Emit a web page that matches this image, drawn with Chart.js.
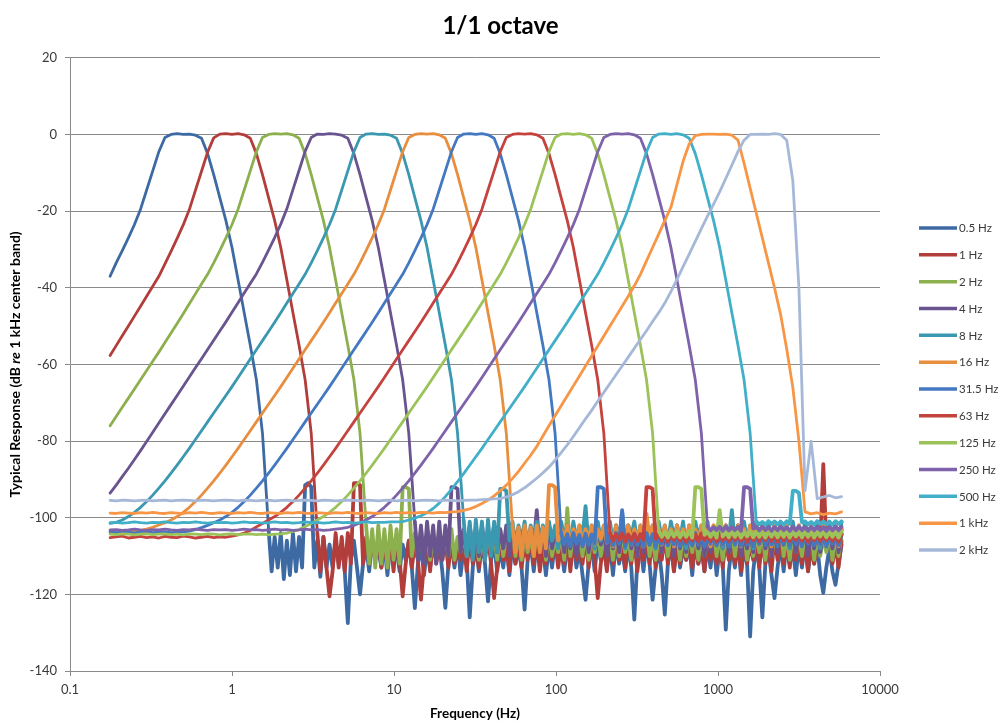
<!DOCTYPE html>
<html><head><meta charset="utf-8">
<script src="https://cdn.jsdelivr.net/npm/chart.js@4.4.1/dist/chart.umd.min.js"></script>
<style>html,body{margin:0;padding:0;background:#fff;}canvas{display:block;}</style>
</head><body>
<canvas id="c" width="1001" height="724"></canvas>
<script>
// ---- data ----
// main frequency grid (1/8 octave)
const freqs = [0.1768,0.1928,0.2102,0.2293,0.25,0.2726,0.2973,0.3242,0.3536,0.3856,0.4204,0.4585,
0.5,0.5453,0.5946,0.6484,0.7071,0.7711,0.8409,0.917,
1,1.0905,1.1892,1.2968,1.4142,1.5422,1.6818,1.834,
2,2.181,2.378,2.594,2.828,3.084,3.364,3.668,
4,4.362,4.757,5.187,5.657,6.169,6.727,7.336,
8,8.724,9.514,10.37,11.31,12.34,13.45,14.67,
16,17.45,19.03,20.75,22.63,24.68,26.91,29.34,
32,34.9,38.05,41.5,45.25,49.35,53.82,58.69,
64,69.79,76.11,83,90.51,98.7,107.6,117.4,
128,139.6,152.2,166,181,197.4,215.3,234.8,
256,279.2,304.4,332,362,394.8,430.5,469.5,
512,558.4,608.9,664,724.1,789.6,861.1,939.1,
1024,1117,1218,1328,1448,1579,1722,1878,
2048,2233,2435,2656,2896,3158,3444,3756,
4096,4467,4871,5312,5793];

// in-between frequencies (used for the dense noise floor readings)
const midFreqs = [0.1846,0.2013,0.2195,0.2394,0.2611,0.2847,0.3105,0.3386,0.3692,0.4026,0.4391,0.4788,
0.5221,0.5694,0.6209,0.6771,0.7384,0.8052,0.8781,0.9576,
1.0443,1.1388,1.2419,1.3543,1.4768,1.6105,1.7563,1.9152,
2.0885,2.2776,2.4837,2.7086,2.9537,3.221,3.5125,3.8304,
4.177,4.555,4.967,5.417,5.907,6.442,7.025,7.661,
8.354,9.11,9.935,10.83,11.81,12.88,14.05,15.32,
16.71,18.22,19.87,21.67,23.63,25.77,28.1,30.64,
33.42,36.44,39.74,43.34,47.26,51.54,56.2,61.29,
66.83,72.88,79.48,86.67,94.52,103.1,112.4,122.6,
133.7,145.8,159,173.3,189,206.1,224.8,245.2,
267.3,291.5,317.9,346.7,378.1,412.3,449.6,490.3,
534.7,583.1,635.8,693.4,756.2,824.6,899.2,980.6,
1069,1166,1272,1387,1512,1649,1798,1961,
2139,2332,2543,2773,3025,3298,3597,3922,
4277,4664,5086,5546];

const seriesLabels = ['0.5 Hz','1 Hz','2 Hz','4 Hz','8 Hz','16 Hz','31.5 Hz','63 Hz','125 Hz','250 Hz','500 Hz','1 kHz','2 kHz'];

const band0_5Hz = [-37,-33.5,-30.3,-27,-23.5,-19.5,-14.5,-9.5,-4.5,-0.8,
0,0.2,0,0.1,-0.2,-1,-5,-10.5,-16.5,-22.5,
-29.5,-38,-46.5,-55,-64,-78,-103,-105,-104,-106,
-104,-105,-91.5,-92,-106,-105,-107,-106,-107,-127.5,
-106,-120,-107,-106,-108,-107,-106,-108,-107,-106,
-123.6,-107,-108,-106,-107,-123.5,-107,-106,-108,-126,
-107,-106,-121.8,-107,-108,-106,-107,-108,-124,-107,
-106,-108,-107,-106,-108,-107,-106,-108,-121.4,-107,
-106,-108,-107,-106,-108,-107,-126.6,-107,-106,-121.4,
-108,-125.3,-107,-106,-108,-107,-106,-108,-107,-106,
-108,-129.2,-107,-106,-108,-131,-107,-126,-108,-121,
-107,-106,-108,-107,-106,-108,-107,-119.6,-108,-117.5,
-107];
const mid0_5Hz = [-114,-113,-116,-115,-114,-113,-91,-113,-115.4,-113,
-113,-112,-114,-111,-113,-112,-114,-111,-113,-115,
-112,-114,-111,-113,-112,-115,-113,-111,-114,-112,
-113,-115,-111,-113,-114,-112,-111,-114,-113,-115,
-112,-113,-111,-114,-112,-115,-113,-111,-114,-112,
-113,-115,-112,-114,-111,-113,-115,-112,-114,-113,
-111,-114,-112,-113,-115,-112,-114,-113,-111,-115,
-112,-114,-113,-115,-112,-114,-113,-115,-112,-114,
-113,-112,-115,-113,-114,-112,-115,-113,-114,-112,
-115,-113,-114,-112];

const band1Hz = [-57.7,-55.1,-52.5,-50,-47.4,-44.8,-42.2,-39.6,-37,-33.8,
-30.5,-27.1,-23.6,-19.6,-14.6,-9.6,-4.6,-0.9,0.1,0.2,
0,0.2,-0.1,-1,-5,-10.5,-16.5,-22.5,-29.5,-38,
-46.5,-55,-64,-78,-104,-105,-120.5,-104,-105,-104,
-91,-91.5,-105,-106,-105,-107,-106,-105,-120.5,-106,
-107,-121.4,-106,-105,-107,-106,-105,-107,-106,-105,
-107,-106,-105,-121,-106,-107,-105,-106,-107,-105,
-106,-107,-105,-106,-107,-105,-106,-107,-105,-106,
-121,-107,-105,-106,-107,-105,-106,-107,-105,-106,
-107,-105,-106,-107,-105,-106,-107,-105,-106,-107,
-105,-106,-107,-105,-106,-107,-105,-106,-107,-105,
-106,-107,-105,-106,-107,-105,-106,-86,-106,-107,
-106];
const mid1Hz = [-114,-113,-114,-113,-114,-112,-91,-112,-112,-111,
-113,-112,-114,-111,-112,-113,-111,-112,-114,-112,
-111,-113,-112,-111,-114,-112,-113,-111,-112,-113,
-111,-114,-112,-113,-111,-112,-114,-112,-111,-113,
-112,-114,-111,-112,-113,-111,-112,-114,-112,-111,
-113,-112,-114,-111,-112,-113,-111,-112,-114,-112,
-111,-113,-112,-114,-111,-112,-113,-111,-112,-114,
-112,-111,-113,-112,-114,-111,-112,-113,-111,-112,
-114,-112,-107,-107,-112,-113];

const band2Hz = [-76,-73.6,-71.2,-68.8,-66.4,-64,-61.6,-59.2,-56.8,-54.3,
-51.8,-49.3,-46.8,-44.2,-41.6,-39,-36.5,-33.5,-30.3,-27,
-23.5,-19.5,-14.5,-9.5,-4.5,-0.8,0,0.2,0.1,0.2,
-0.1,-1,-5,-10.5,-16.5,-22.5,-29.5,-38,-46.5,-55,
-64,-78,-102,-103,-102,-103,-102,-103,-92,-92.5,
-104,-103,-104,-105,-103,-104,-103,-105,-104,-103,
-104,-105,-103,-104,-103,-105,-104,-103,-104,-105,
-103,-104,-103,-105,-104,-97.5,-104,-105,-103,-104,
-103,-105,-104,-103,-104,-105,-103,-104,-103,-105,
-104,-103,-104,-105,-103,-104,-103,-105,-104,-103,
-104,-105,-103,-104,-103,-105,-104,-103,-104,-105,
-103,-104,-103,-105,-104,-103,-104,-105,-103,-104,
-104];
const mid2Hz = [-112,-113,-112,-113,-111,-112,-92,-110,-110,-109,
-111,-110,-108,-110,-111,-109,-110,-108,-111,-110,
-109,-111,-110,-108,-110,-111,-109,-110,-108,-111,
-110,-109,-111,-110,-108,-110,-111,-109,-110,-108,
-111,-110,-109,-111,-110,-108,-110,-111,-109,-110,
-108,-111,-110,-109,-111,-110,-108,-110,-111,-109,
-110,-108,-111,-110,-109,-111,-110,-108,-110,-111,
-109,-110,-108,-111,-110,-109,-111,-110];

const band4Hz = [-93.6,-91.5,-89.3,-87.1,-84.8,-82.5,-80.1,-77.7,-75.3,-72.9,
-70.5,-68.1,-65.7,-63.3,-60.9,-58.5,-56.1,-53.7,-51.3,-48.9,
-46.4,-43.9,-41.4,-38.9,-36.4,-33.4,-30.2,-26.9,-23.4,-19.4,
-14.4,-9.4,-4.4,-0.8,0.1,0,0.2,0.1,-0.2,-1,
-5,-10.5,-16.5,-22.5,-29.5,-38,-46.5,-55,-64,-78,
-101,-102,-101,-102,-101,-102,-92,-92.5,-103,-102,
-103,-102,-104,-102,-103,-102,-103,-104,-102,-103,
-98,-103,-102,-104,-103,-102,-103,-104,-102,-103,
-102,-103,-104,-102,-103,-102,-104,-103,-102,-103,
-102,-104,-103,-102,-103,-104,-102,-103,-102,-103,
-104,-102,-103,-102,-104,-103,-102,-103,-104,-102,
-103,-102,-103,-104,-102,-103,-102,-104,-103,-102,
-103];
const mid4Hz = [-111,-112,-110,-112,-111,-110,-92,-109,-109,-108,
-110,-108,-107,-109,-108,-110,-107,-109,-108,-107,
-109,-110,-108,-107,-109,-108,-110,-107,-109,-108,
-107,-110,-108,-109,-107,-108,-110,-109,-107,-108,
-109,-107,-110,-108,-109,-107,-108,-110,-109,-107,
-108,-109,-107,-110,-108,-109,-107,-108,-110,-109,
-107,-108,-109,-107,-110,-108,-109,-107,-108,-109];

const band8Hz = [-101.5,-101.2,-100.6,-99.7,-98.6,-97.3,-95.8,-94.1,-92.3,-90.4,
-88.4,-86.3,-84.1,-81.9,-79.6,-77.3,-75,-72.7,-70.4,-68.1,
-65.8,-63.4,-61,-58.6,-56.2,-53.8,-51.4,-49,-46.5,-44,
-41.5,-39,-36.5,-33.5,-30.3,-27,-23.5,-19.5,-14.5,-9.5,
-4.5,-0.8,0.1,0.2,0,0.1,-0.2,-1,-5,-10.5,
-16.5,-22.5,-29.5,-38,-46.5,-55,-64,-78,-100.5,-101,
-100.5,-101,-100.5,-101,-92.5,-93,-101,-102,-101,-102,
-101,-102,-101,-102,-101,-102,-101,-102,-97,-102,
-101,-102,-101,-102,-98.5,-102,-101,-102,-101,-102,
-101,-102,-101,-102,-101,-102,-101,-102,-101,-102,
-101,-102,-98,-102,-101,-102,-101,-102,-101,-102,
-101,-102,-101,-102,-101,-102,-101,-102,-101,-102,
-101];
const mid8Hz = [-110,-111,-109,-111,-110,-109,-92.5,-106,-107,-106,
-108,-106,-105,-107,-106,-108,-105,-107,-106,-105,
-107,-108,-106,-105,-107,-106,-108,-105,-107,-106,
-105,-108,-106,-107,-105,-106,-108,-107,-105,-106,
-107,-105,-108,-106,-107,-105,-106,-108,-107,-105,
-106,-107,-105,-108,-106,-107,-105,-106,-108,-107,
-105,-106];

const band16Hz = [-103.6,-103.4,-103.6,-103.5,-103.4,-103.3,-103,-102.5,-101.9,-101.3,
-100.6,-99.7,-98.6,-97.3,-95.8,-94.1,-92.3,-90.4,-88.4,-86.3,
-84.1,-81.9,-79.6,-77.3,-75,-72.7,-70.4,-68.1,-65.8,-63.4,
-61,-58.6,-56.2,-53.8,-51.4,-49,-46.5,-44,-41.5,-39,
-36.5,-33.5,-30.3,-27,-23.5,-19.5,-14.5,-9.5,-4.5,-0.8,
0,0.2,0.1,0.2,-0.1,-1,-5,-10.5,-16.5,-22.5,
-29.5,-38,-46.5,-55,-64,-78,-102,-102.5,-102,-102.5,
-102,-102.5,-91.5,-92,-103,-102,-103,-102,-103,-102,
-103,-102,-103,-102,-103,-102,-103,-102,-99,-102,
-103,-102,-103,-102,-103,-102,-103,-102,-103,-102,
-103,-102,-103,-102,-103,-102,-103,-102,-103,-102,
-103,-102,-103,-102,-103,-102,-103,-102,-103,-102,
-103];
const mid16Hz = [-109,-110,-108,-110,-109,-108,-91.5,-106,-106,-107,
-105.5,-107.5,-106,-107,-105.5,-106.5,-107.5,-106,-105.5,-107,
-106,-107.5,-105.5,-106.5,-107,-106,-107.5,-105.5,-106,-107,
-106.5,-105.5,-107.5,-106,-107,-105.5,-106.5,-107.5,-106,-105.5,
-107,-106,-107.5,-105.5,-106.5,-107,-106,-107.5,-105.5,-106,
-107,-106.5,-105.5,-107.5];

const band31_5Hz = [-103.8,-103.9,-103.7,-103.8,-104,-103.8,-103.7,-103.9,-103.8,-103.7,
-103.9,-103.8,-103.7,-103.5,-103.1,-102.6,-102,-101.3,-100.6,-99.7,
-98.6,-97.3,-95.8,-94.1,-92.3,-90.4,-88.4,-86.3,-84.1,-81.9,
-79.6,-77.3,-75,-72.7,-70.4,-68.1,-65.8,-63.4,-61,-58.6,
-56.2,-53.8,-51.4,-49,-46.5,-44,-41.5,-39,-36.5,-33.5,
-30.3,-27,-23.5,-19.5,-14.5,-9.5,-4.5,-0.8,0.1,0.2,
0,0.2,-0.1,-1,-5,-10.5,-16.5,-22.5,-29.5,-38,
-46.5,-55,-64,-78,-104,-104.3,-104,-104.5,-104.2,-104.4,
-92,-92.5,-104.3,-104,-98,-104.5,-104.2,-104.4,-104,-104.3,
-104.5,-104.2,-104,-104.4,-104.3,-104.5,-104,-104.2,-104.4,-104.3,
-104,-104.5,-104.2,-104.3,-104.4,-104,-104.5,-104.2,-104.3,-104.4,
-104,-104.5,-104.2,-104.3,-104.4,-104,-104.5,-104.2,-104.3,-104.4,
-104.3];
const mid31_5Hz = [-107,-107.5,-106.8,-107.5,-107,-106.8,-92,-106.5,-107.2,-106.8,
-107.5,-107,-106.8,-107.4,-107,-107.5,-106.8,-107.2,-107,-107.5,
-106.8,-107.3,-107,-107.5,-106.8,-107.2,-107,-107.5,-106.8,-107.3,
-107,-107.5,-106.8,-107.2,-107,-107.5,-106.8,-107.3,-107,-107.5,
-106.8,-107.2,-107,-107.5,-106.8,-107.2];

const band63Hz = [-105.2,-105,-104.8,-105.3,-105.1,-104.9,-105.2,-105,-105.3,-104.9,
-105.1,-105.2,-104.8,-105,-105.3,-105.1,-104.9,-105.2,-105,-105.1,
-104.8,-104.5,-104,-103.3,-102.4,-101.5,-100.6,-99.7,-98.6,-97.3,
-95.8,-94.1,-92.3,-90.4,-88.4,-86.3,-84.1,-81.9,-79.6,-77.3,
-75,-72.7,-70.4,-68.1,-65.8,-63.4,-61,-58.6,-56.2,-53.8,
-51.4,-49,-46.5,-44,-41.5,-39,-36.5,-33.5,-30.3,-27,
-23.5,-19.5,-14.5,-9.5,-4.5,-0.8,0,0.2,0.1,0.2,
-0.1,-1,-5,-10.5,-16.5,-22.5,-29.5,-38,-46.5,-55,
-64,-78,-104,-104.3,-104.1,-104.4,-104.2,-104.3,-92,-92.5,
-104.2,-104.4,-104.1,-104.3,-104.5,-104.2,-104.4,-104.1,-104.3,-104.2,
-104.4,-104.1,-104.3,-104.5,-104.2,-104.4,-104.1,-104.3,-104.2,-104.4,
-104.1,-104.3,-104.5,-104.2,-104.4,-104.1,-104.3,-104.2,-104.4,-104.1,
-104.3];
const mid63Hz = [-106,-105.8,-106.2,-105.9,-106,-105.8,-92,-105.5,-106,-106.2,
-105.8,-106,-106.3,-105.9,-106.1,-105.8,-106,-106.2,-105.9,-106.1,
-105.8,-106,-106.3,-105.9,-106.1,-105.8,-106,-106.2,-105.9,-106.1,
-105.8,-106,-106.3,-105.9,-106.1,-105.8,-106,-106.2];

const band125Hz = [-104.3,-104.4,-104.2,-104.3,-104.5,-104.3,-104.2,-104.4,-104.3,-104.2,
-104.4,-104.3,-104.5,-104.2,-104.3,-104.4,-104.2,-104.3,-104.5,-104.3,
-104.2,-104.4,-104.3,-104.2,-104.4,-104.3,-104.5,-104.3,-104.2,-104,
-103.6,-103.1,-102.3,-101.5,-100.6,-99.7,-98.6,-97.3,-95.8,-94.1,
-92.3,-90.4,-88.4,-86.3,-84.1,-81.9,-79.6,-77.3,-75,-72.7,
-70.4,-68.1,-65.8,-63.4,-61,-58.6,-56.2,-53.8,-51.4,-49,
-46.5,-44,-41.5,-39,-36.5,-33.5,-30.3,-27,-23.5,-19.5,
-14.5,-9.5,-4.5,-0.8,0.1,0.2,0,0.2,-0.1,-1,
-5,-10.5,-16.5,-22.5,-29.5,-38,-46.5,-55,-64,-78,
-103.5,-103.7,-103.5,-103.6,-103.7,-103.5,-92,-92.5,-103.6,-103.5,
-98,-103.7,-103.5,-103.6,-103.7,-103.5,-103.6,-103.7,-103.5,-103.6,
-103.7,-103.5,-103.6,-103.7,-103.5,-103.6,-103.7,-103.5,-103.6,-103.7,
-103.6];
const mid125Hz = [-105,-105.2,-104.9,-105.1,-105,-105.2,-92,-104.5,-105,-105.2,
-104.9,-105.1,-105,-105.2,-104.9,-105.1,-105,-105.2,-104.9,-105.1,
-105,-105.2,-104.9,-105.1,-105,-105.2,-104.9,-105.1,-105,-105.2];

const band250Hz = [-103.2,-103.1,-103.3,-103.2,-103,-103.2,-103.3,-103.1,-103.2,-103,
-103.2,-103.3,-103.1,-103.2,-103,-103.2,-103.3,-103.1,-103.2,-103.1,
-103.3,-103.2,-103,-103.2,-103.1,-103.3,-103.2,-103,-103.2,-103.1,
-103.3,-103.2,-103,-103.2,-103.1,-103.3,-103.2,-103,-102.8,-102.5,
-102,-101.3,-100.6,-99.7,-98.6,-97.3,-95.8,-94.1,-92.3,-90.4,
-88.4,-86.3,-84.1,-81.9,-79.6,-77.3,-75,-72.7,-70.4,-68.1,
-65.8,-63.4,-61,-58.6,-56.2,-53.8,-51.4,-49,-46.5,-44,
-41.5,-39,-36.5,-33.5,-30.3,-27,-23.5,-19.5,-14.5,-9.5,
-4.5,-0.8,0,0.2,0.1,0.2,-0.1,-1,-5,-10.5,
-16.5,-22.5,-29.5,-38,-46.5,-55,-64,-78,-102.3,-102.5,
-102.4,-102.3,-102.5,-102.4,-92,-92.5,-102.4,-102.3,-102.5,-102.4,
-102.3,-102.5,-102.4,-102.3,-102.5,-102.4,-102.3,-102.5,-102.4,-102.3,
-102.4];
const mid250Hz = [-103.3,-103.2,-103.4,-103.3,-103.2,-103.4,-92,-102.8,-103.3,-103.2,
-103.4,-103.3,-103.2,-103.4,-103.3,-103.2,-103.4,-103.3,-103.2,-103.4,
-103.3,-103.2];

const band500Hz = [-101.3,-101.2,-101.4,-101.3,-101.1,-101.3,-101.4,-101.2,-101.3,-101.1,
-101.3,-101.4,-101.2,-101.3,-101.1,-101.3,-101.4,-101.2,-101.3,-101.2,
-101.4,-101.3,-101.1,-101.3,-101.2,-101.4,-101.3,-101.1,-101.3,-101.2,
-101.4,-101.3,-101.1,-101.3,-101.2,-101.4,-101.3,-101.1,-101.3,-101.2,
-101.4,-101.3,-101.1,-101.3,-101.2,-101.2,-101.1,-101.1,-101,-100.6,
-100.1,-99.5,-98.7,-97.6,-96.2,-94.5,-92.6,-90.6,-88.5,-86.3,
-84.1,-81.9,-79.6,-77.3,-75,-72.7,-70.4,-68.1,-65.8,-63.4,
-61,-58.6,-56.2,-53.8,-51.4,-49,-46.5,-44,-41.5,-39,
-36.5,-33.5,-30.3,-27,-23.5,-19.5,-14.5,-9.5,-4.5,-0.8,
0.1,0.2,0,0.2,-0.1,-1,-5,-10.5,-16.5,-22.5,
-29.5,-38,-46.5,-55,-64,-78,-101,-101.1,-100.9,-101,
-101.1,-100.9,-93,-93.5,-101,-101.1,-100.9,-101,-101.1,-100.9,
-101];
const mid500Hz = [-101.7,-101.8,-101.6,-101.7,-101.8,-101.6,-93,-101.2,-101.7,-101.8,
-101.6,-101.7,-101.8,-101.6];

const band1kHz = [-98.8,-98.9,-98.7,-98.8,-98.9,-98.7,-98.8,-98.6,-98.8,-98.9,
-98.7,-98.8,-98.9,-98.7,-98.8,-98.6,-98.8,-98.9,-98.7,-98.8,
-98.9,-98.7,-98.8,-98.6,-98.8,-98.9,-98.7,-98.8,-98.9,-98.7,
-98.8,-98.6,-98.8,-98.9,-98.7,-98.8,-98.9,-98.7,-98.8,-98.6,
-98.8,-98.9,-98.7,-98.8,-98.9,-98.7,-98.8,-98.6,-98.8,-98.7,
-98.8,-98.6,-98.7,-98.8,-98.6,-98.7,-98.5,-98.4,-98.1,-97.7,
-97.1,-96.3,-95.4,-94.3,-93,-91.5,-89.8,-87.9,-85.8,-83.7,
-81.4,-78.7,-76,-73.4,-70.8,-68.2,-65.6,-63,-60.4,-57.8,
-55.2,-52.6,-50,-47.4,-44.8,-42.2,-39.5,-36.5,-33,-29.5,
-26,-22.5,-19,-13,-7,-2.5,-0.3,0,0.1,0.1,
0,0.1,-0.2,-1.5,-7.5,-14,-20.5,-27,-33.5,-40,
-47,-56,-66,-80,-98.5,-99,-98.7,-99.2,-98.8,-99,
-98.5];

const band2kHz = [-95.5,-95.6,-95.4,-95.5,-95.6,-95.5,-95.4,-95.6,-95.5,-95.4,
-95.6,-95.5,-95.4,-95.5,-95.6,-95.4,-95.5,-95.6,-95.5,-95.4,
-95.5,-95.6,-95.4,-95.5,-95.6,-95.5,-95.4,-95.6,-95.5,-95.4,
-95.6,-95.5,-95.4,-95.5,-95.6,-95.4,-95.5,-95.6,-95.5,-95.4,
-95.5,-95.6,-95.4,-95.5,-95.6,-95.5,-95.4,-95.6,-95.5,-95.4,
-95.6,-95.5,-95.4,-95.5,-95.6,-95.4,-95.5,-95.6,-95.5,-95.4,
-95.4,-95.3,-95.2,-95.1,-95,-94.6,-94,-93.2,-92.2,-91,
-89.7,-88.3,-86.8,-85,-83,-81,-78.8,-76.5,-74.2,-72,
-69.6,-67.3,-65,-62.7,-60.4,-58.1,-55.8,-53.5,-51.2,-48.8,
-46.5,-44,-41,-37.8,-34.5,-31.2,-27.9,-24.6,-21.3,-18.2,
-15,-11.5,-8,-4.5,-1.5,0,0,0.1,0,0.2,
0,-1.5,-12,-40,-93,-80,-95,-94.6,-94.2,-94.8,
-94.5];

const seriesValues = [band0_5Hz, band1Hz, band2Hz, band4Hz, band8Hz, band16Hz, band31_5Hz,
  band63Hz, band125Hz, band250Hz, band500Hz, band1kHz, band2kHz];
const seriesMidValues = [mid0_5Hz, mid1Hz, mid2Hz, mid4Hz, mid8Hz, mid16Hz, mid31_5Hz,
  mid63Hz, mid125Hz, mid250Hz, mid500Hz, [], []];
// index in freqs/midFreqs where each series' in-between readings begin
const midFirstIndex = [26, 34, 42, 50, 58, 66, 74, 82, 90, 98, 106, 0, 0];

const xTickValues = [0.1, 1, 10, 100, 1000, 10000];
const xTickLabels = ['0.1', '1', '10', '100', '1000', '10000'];

// ---- styles ----
const seriesColors = ['#3D6AA3','#B23E3B','#8DB04F','#6A5490','#3A98B0','#E88E3F','#4478C0',
  '#C4433F','#9CC25A','#7E62AA','#42AFC9','#F79646','#A6B8D8'];
const FONT = 'Lato, "Liberation Sans", sans-serif';
const GRID = '#8a8a8a';
const TXT = '#3a3a3a';

Chart.defaults.font.family = FONT;

function buildPoints(m) {
  const vals = seriesValues[m], mids = seriesMidValues[m], first = midFirstIndex[m];
  const pts = [];
  freqs.forEach((f, i) => {
    pts.push({ x: f, y: vals[i] });
    const j = i - first;
    if (j >= 0 && j < mids.length) pts.push({ x: midFreqs[i], y: mids[j] });
  });
  return pts;
}

const datasets = seriesLabels.map((label, m) => {
  const hasNoise = seriesMidValues[m].length > 0;
  const noiseFrom = freqs[midFirstIndex[m]];
  return {
    label,
    data: buildPoints(m),
    borderColor: seriesColors[m],
    backgroundColor: seriesColors[m],
    borderWidth: 2.8,
    pointRadius: 0,
    tension: 0,
    fill: false,
    borderJoinStyle: 'round',
    borderCapStyle: 'round',
    order: seriesLabels.length - 1 - m,
    segment: {
      borderWidth: c => (hasNoise && c.p0.parsed.x >= noiseFrom * 0.999) ? 3.8 : undefined
    }
  };
});

const overlay = {
  id: 'overlay',
  beforeDraw(chart) {
    const ctx = chart.ctx;
    ctx.save(); ctx.fillStyle = '#fff'; ctx.fillRect(0, 0, chart.width, chart.height); ctx.restore();
  },
  afterDraw(chart) {
    const ctx = chart.ctx;
    const area = chart.chartArea;
    const parts = [
      { t: 'Typical Response (dB ', f: 'bold 14px ' + FONT },
      { t: 're', f: 'italic bold 14px ' + FONT },
      { t: ' 1 kHz center band)', f: 'bold 14px ' + FONT }
    ];
    let total = 0;
    parts.forEach(p => { ctx.font = p.f; p.w = ctx.measureText(p.t).width; total += p.w; });
    ctx.save();
    ctx.translate(15.5, (area.top + area.bottom) / 2);
    ctx.rotate(-Math.PI / 2);
    ctx.textBaseline = 'middle';
    ctx.fillStyle = '#000';
    let x = -total / 2;
    parts.forEach(p => { ctx.font = p.f; ctx.fillText(p.t, x, 0); x += p.w; });
    ctx.restore();
    ctx.save();
    chart.data.datasets.forEach((ds, j) => {
      const y = 228 + j * 26.83;
      ctx.strokeStyle = ds.borderColor;
      ctx.lineWidth = 3.5;
      ctx.lineCap = 'butt';
      ctx.beginPath(); ctx.moveTo(919, y); ctx.lineTo(957, y); ctx.stroke();
      ctx.font = '11.5px ' + FONT;
      ctx.fillStyle = TXT;
      ctx.textBaseline = 'middle';
      ctx.textAlign = 'left';
      ctx.fillText(ds.label, 959, y + 0.5);
    });
    ctx.restore();
  }
};

new Chart(document.getElementById('c'), {
  type: 'line',
  data: { datasets },
  plugins: [overlay],
  options: {
    responsive: false,
    devicePixelRatio: 1,
    animation: false,
    events: [],
    layout: { padding: 0 },
    plugins: {
      legend: { display: false },
      tooltip: { enabled: false },
      title: {
        display: true, text: '1/1 octave', color: '#000',
        font: { size: 24, weight: 'bold', family: FONT },
        padding: { top: 12, bottom: 17 }
      }
    },
    scales: {
      x: {
        type: 'logarithmic', min: 0.1, max: 10000,
        afterBuildTicks: s => { s.ticks = xTickValues.map(v => ({ value: v })); },
        afterFit: s => { s.height = 53; },
        ticks: {
          autoSkip: false, maxRotation: 0, color: TXT, padding: 6,
          font: { size: 13 },
          callback: (v, i) => xTickLabels[i]
        },
        grid: { display: true, drawOnChartArea: false, drawTicks: true, tickLength: 5, color: GRID },
        border: { display: true, color: GRID, width: 1 },
        title: { display: true, text: 'Frequency (Hz)', color: '#000',
          font: { size: 13.5, weight: 'bold' }, padding: { top: 0, bottom: 2 } }
      },
      y: {
        type: 'linear', min: -140, max: 20,
        afterFit: s => { s.width = 70; },
        ticks: { stepSize: 20, color: TXT, padding: 8, font: { size: 13 } },
        grid: { color: GRID, tickLength: 5, drawTicks: true },
        border: { display: true, color: GRID, width: 1 }
      },
      yRight: {
        type: 'linear', position: 'right', display: true,
        afterFit: s => { s.width = 121; },
        ticks: { display: false },
        grid: { display: false, drawTicks: false },
        border: { display: false }
      }
    }
  }
});
</script>
</body></html>
